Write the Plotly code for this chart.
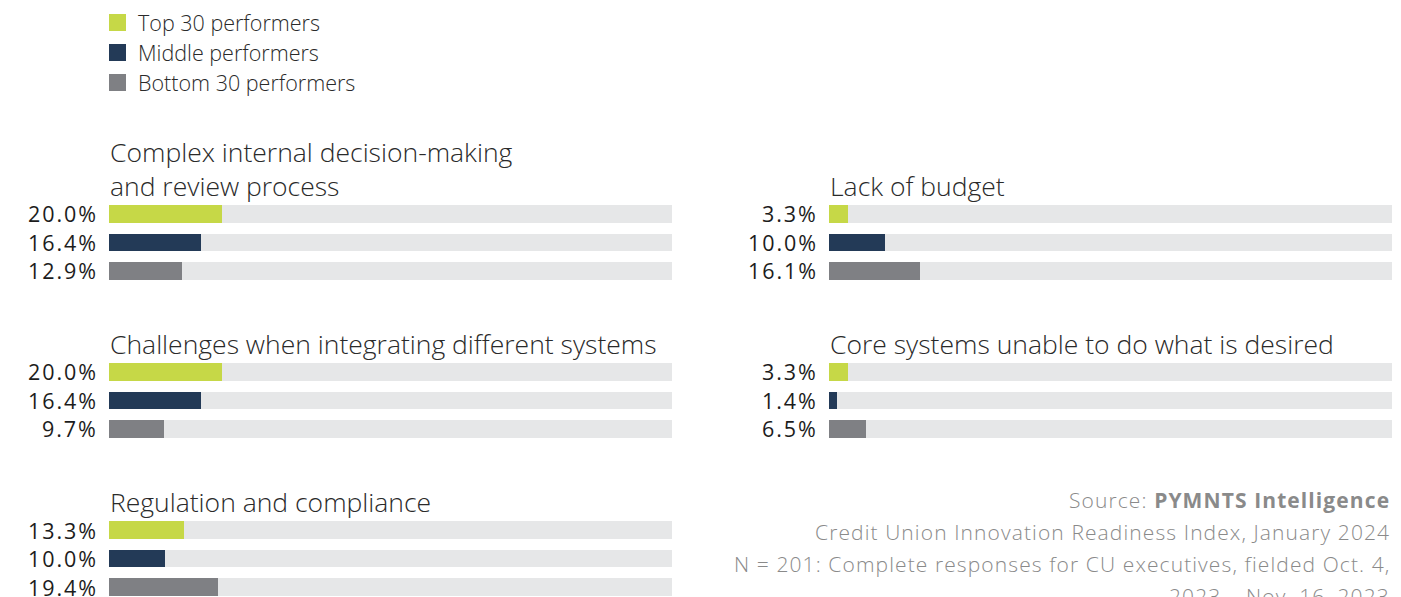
import plotly.graph_objects as go

# ---- data -------------------------------------------------------------
series = ["Top 30 performers", "Middle performers", "Bottom 30 performers"]
titles = [
    "Complex internal decision-making<br>and review process",
    "Lack of budget",
    "Challenges when integrating different systems",
    "Core systems unable to do what is desired",
    "Regulation and compliance",
]
top30 = [20.0, 3.3, 20.0, 3.3, 13.3]
middle = [16.4, 10.0, 16.4, 1.4, 10.0]
bottom30 = [12.9, 16.1, 9.7, 6.5, 19.4]

source_lines = [
    "Source: <b>PYMNTS Intelligence</b>",
    "Credit Union Innovation Readiness Index, January 2024",
    "N = 201: Complete responses for CU executives, fielded Oct. 4,",
    "2023 – Nov. 16, 2023",
]

# ---- styling ----------------------------------------------------------
W, H = 1401, 597
colors = ["#c6d847", "#233a57", "#7f8084"]
track_color = "#e6e7e8"
text_font = "Open Sans"
label_color = "#1c1c1c"

# panel grid: column left/right edges and first-bar centre per panel (px)
col_x = [(109, 672), (829, 1392)]
panel_pos = [(0, 213.8), (1, 213.8), (0, 371.8), (1, 371.8), (0, 530.4)]
row_step = 28.3
bar_frac = 0.62


def px_x(x):
    return x / W


def px_y(y):
    return 1 - y / H


def spaced(text, px):
    return f'<span style="letter-spacing:{px}px">{text}</span>'


fig = go.Figure()
annotations = []
shapes = []

values_by_panel = list(zip(top30, middle, bottom30))

for i, (col, y0) in enumerate(panel_pos):
    ax = "" if i == 0 else str(i + 1)
    xa, ya = "x" + ax, "y" + ax
    vals = values_by_panel[i]
    cats = [0, 1, 2]

    # grey track behind each bar
    fig.add_trace(go.Bar(
        x=[100] * 3, y=cats, orientation="h", width=bar_frac,
        marker=dict(color=track_color, line=dict(width=0)),
        xaxis=xa, yaxis=ya, showlegend=False, hoverinfo="skip",
    ))
    # value bars
    fig.add_trace(go.Bar(
        x=list(vals), y=cats, orientation="h", width=bar_frac,
        marker=dict(color=colors, line=dict(width=0)),
        xaxis=xa, yaxis=ya, showlegend=False,
    ))

    x_left, x_right = col_x[col]
    top = y0 - row_step / 2
    bottom = min(y0 + 2.5 * row_step, H)
    bottom_unit = -0.5 + (bottom - top) / row_step
    fig.update_layout({
        "xaxis" + ax: dict(
            domain=[px_x(x_left), px_x(x_right)], range=[0, 100],
            visible=False, fixedrange=True, anchor=ya,
        ),
        "yaxis" + ax: dict(
            domain=[max(px_y(bottom), 0), px_y(top)],
            range=[bottom_unit, -0.5],
            visible=False, fixedrange=True, anchor=xa,
        ),
    })

    # value labels to the left of each bar
    for k, v in enumerate(vals):
        annotations.append(dict(
            text=spaced(f"{v:.1f}%", 1.9), xref="paper", yref=ya,
            x=px_x(x_left - 9), y=k, xanchor="right", yanchor="middle",
            showarrow=False,
            font=dict(family=text_font, size=21.5, color=label_color, weight=400),
        ))

    # panel title sitting above the bars
    n_lines = titles[i].count("<br>") + 1
    yc = y0 - 28 - 17 * (n_lines - 1)
    annotations.append(dict(
        text=titles[i], xref="paper", yref="paper", align="left",
        x=px_x(x_left - 1), y=px_y(yc), xanchor="left", yanchor="middle",
        showarrow=False,
        font=dict(family=text_font, size=26.5, color="#2a2a2a", weight=300),
    ))

# legend drawn as squares + labels
for k, name in enumerate(series):
    yc = 22.5 + 30 * k
    shapes.append(dict(
        type="rect", xref="paper", yref="paper",
        x0=px_x(109), x1=px_x(126), y0=px_y(yc + 8.5), y1=px_y(yc - 8.5),
        fillcolor=colors[k], line=dict(width=0),
    ))
    annotations.append(dict(
        text=name, xref="paper", yref="paper",
        x=px_x(136), y=px_y(yc), xanchor="left", yanchor="middle",
        showarrow=False,
        font=dict(family=text_font, size=21.5, color="#2a2a2a", weight=300),
    ))

# source block, right-aligned
for k, line in enumerate(source_lines):
    yc = 500 + 32 * k
    annotations.append(dict(
        text=spaced(line, 1.1), xref="paper", yref="paper",
        x=px_x(1392), y=px_y(yc), xanchor="right", yanchor="middle",
        showarrow=False,
        font=dict(family=text_font, size=21, color="#8a8a8a", weight=300),
    ))

fig.update_layout(
    width=W, height=H,
    margin=dict(l=0, r=0, t=0, b=0),
    paper_bgcolor="white", plot_bgcolor="white",
    barmode="overlay", bargap=0,
    showlegend=False,
    annotations=annotations, shapes=shapes,
)

fig.write_html("out.html", config={"displayModeBar": False})
